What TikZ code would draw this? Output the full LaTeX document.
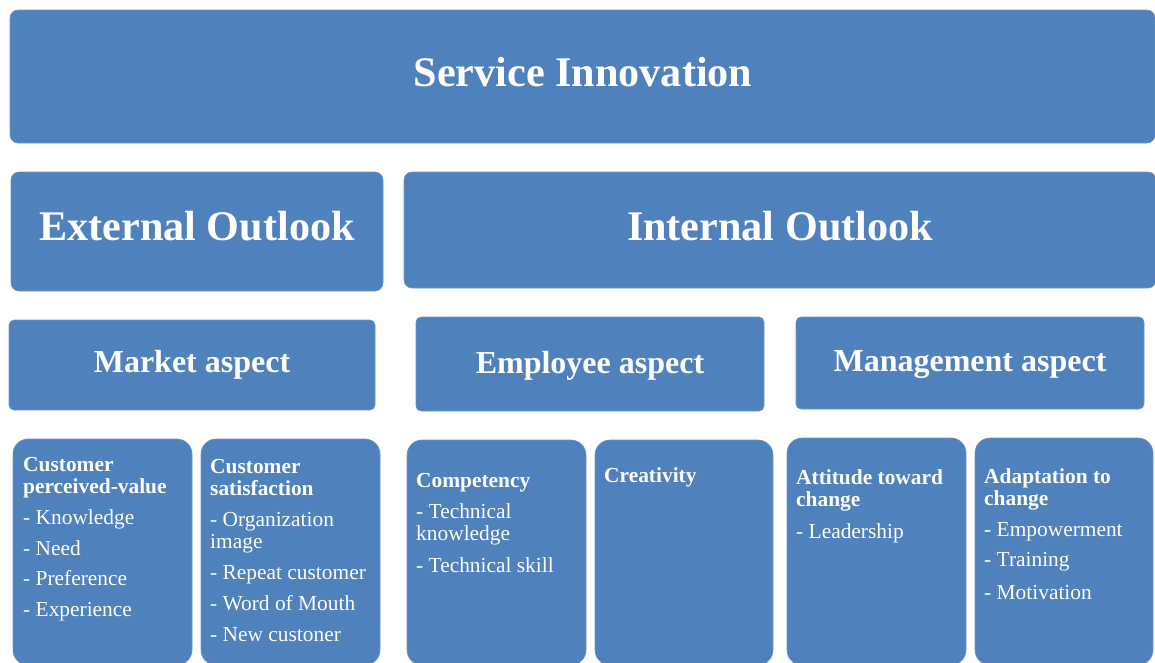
\documentclass[tikz,border=0pt]{standalone}
\usepackage{fontspec}
\setmainfont{Liberation Serif}
\definecolor{boxblue}{HTML}{4F81BD}
\definecolor{edgeblue}{HTML}{6A95C8}
\newcommand\boxline[1]{\hbox{#1}}
\newcommand\itemgap[1][9pt]{\vskip#1}
\newcommand\stack[1]{\vtop{\baselineskip=22pt\lineskip=0pt\lineskiplimit=-100pt\relax #1}}
\tikzset{
  bluebox/.style={fill=boxblue, draw=edgeblue, line width=0.6pt, rectangle, inner sep=0pt, outer sep=0pt, anchor=north west},
  big/.style={text=white, font=\fontsize{42.2}{48}\selectfont\bfseries, anchor=base, inner sep=0pt},
  mid/.style={text=white, font=\fontsize{32}{36}\selectfont\bfseries, anchor=base, inner sep=0pt},
  small/.style={text=white, font=\fontsize{21.4}{22}\selectfont, anchor=base west, inner sep=0pt},
}
\begin{document}
\begin{tikzpicture}[x=1pt,y=-1pt]
\useasboundingbox (0,0) rectangle (1155,662);
% top level
\node[bluebox, rounded corners=8pt, minimum width=1145pt, minimum height=133pt] (si) at (10,10) {};
\node[big] (sit) at (583,86.7) {Service Innovation};
% outlooks
\node[bluebox, rounded corners=8pt, minimum width=372pt, minimum height=119pt] (ext) at (11,172) {};
\node[big] (extt) at (197,240) {External Outlook};
\node[bluebox, rounded corners=8pt, minimum width=752pt, minimum height=116pt] (int) at (404,172) {};
\node[big] (intt) at (780,240) {Internal Outlook};
% aspects
\node[bluebox, rounded corners=5pt, minimum width=366pt, minimum height=90pt] (mkt) at (9,320) {};
\node[mid] (mktt) at (192,372.3) {Market aspect};
\node[bluebox, rounded corners=5pt, minimum width=348pt, minimum height=94pt] (emp) at (416,317) {};
\node[mid] (empt) at (590,373) {Employee aspect};
\node[bluebox, rounded corners=5pt, minimum width=348pt, minimum height=92pt] (mgt) at (796,317) {};
\node[mid] (mgtt) at (970,371.7) {Management aspect};
% detail boxes
\node[bluebox, rounded corners=15pt, minimum width=179pt, minimum height=226pt] (b1) at (13,439) {};
\node[bluebox, rounded corners=15pt, minimum width=179pt, minimum height=226pt] (b2) at (201,439) {};
\node[bluebox, rounded corners=15pt, minimum width=179pt, minimum height=225pt] (b3) at (407,440) {};
\node[bluebox, rounded corners=15pt, minimum width=178pt, minimum height=225pt] (b4) at (595,440) {};
\node[bluebox, rounded corners=15pt, minimum width=179pt, minimum height=227pt] (b5) at (787,438) {};
\node[bluebox, rounded corners=15pt, minimum width=178pt, minimum height=227pt] (b6) at (975,438) {};
% detail texts
\node[small] (t1) at (23,471.7) {\stack{%
  \boxline{\bfseries Customer}\boxline{\bfseries perceived-value}\itemgap
  \boxline{- Knowledge}\itemgap[8.5pt]
  \boxline{- Need}\itemgap[8.5pt]
  \boxline{- Preference}\itemgap[8.5pt]
  \boxline{- Experience}}};
\node[small] (t2) at (210,473) {\stack{%
  \boxline{\bfseries Customer}\boxline{\bfseries satisfaction}\itemgap
  \boxline{- Organization}\boxline{image}\itemgap
  \boxline{- Repeat customer}\itemgap
  \boxline{- Word of Mouth}\itemgap
  \boxline{- New custoner}}};
\node[small] (t3) at (416,487) {\stack{%
  \boxline{\bfseries Competency}\itemgap
  \boxline{- Technical}\boxline{knowledge}\itemgap[10pt]
  \boxline{- Technical skill}}};
\node[small] (t4) at (604,482) {\stack{%
  \boxline{\bfseries Creativity}}};
\node[small] (t5) at (796,484) {\stack{%
  \boxline{\bfseries Attitude toward}\boxline{\bfseries change}\itemgap[10pt]
  \boxline{- Leadership}}};
\node[small] (t6) at (984,483) {\stack{%
  \boxline{\bfseries Adaptation to}\boxline{\bfseries change}\itemgap
  \boxline{- Empowerment}\itemgap[8pt]
  \boxline{- Training}\itemgap[11pt]
  \boxline{- Motivation}}};
\end{tikzpicture}
\end{document}
